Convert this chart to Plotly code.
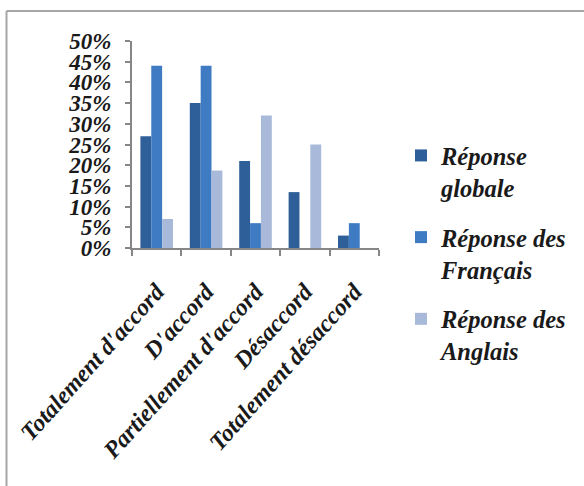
import plotly.graph_objects as go

categories = ["Totalement d'accord", "D'accord", "Partiellement d'accord", "Désaccord", "Totalement désaccord"]
series_names = ["Réponse<br>globale", "Réponse des<br>Français", "Réponse des<br>Anglais"]
globale = [27, 35, 21, 13.5, 3]
francais = [44, 44, 6, 0, 6]
anglais = [7, 18.7, 32, 25, 0]
colors = ["#2F5F98", "#3F7BC2", "#A8B9D9"]
y_ticks = [0, 5, 10, 15, 20, 25, 30, 35, 40, 45, 50]

FAM = "Liberation Serif, Times New Roman, serif"
font = dict(family=FAM, size=23, color="#1a1a1a", weight="bold", style="italic")

fig = go.Figure()
for i, (name, vals, c) in enumerate(zip(series_names, [globale, francais, anglais], colors)):
    fig.add_trace(go.Bar(x=categories, y=[v / 100 for v in vals], name=name,
                         legendgroup=f"g{i}",
                         marker=dict(color=c, line=dict(width=0))))

W, H = 584, 486
L, R, T, B = 132, 379, 41, 248

def px_x(px):
    return (px - L) / (R - L)

def px_y(py):
    return (B - py) / (B - T)

fig.update_layout(
    width=W, height=H,
    margin=dict(l=L, r=W - R, t=T, b=H - B, pad=0, autoexpand=False),
    paper_bgcolor="white", plot_bgcolor="white",
    barmode="group", bargap=0.34, bargroupgap=0,
    font=font,
    showlegend=True,
    legend=dict(xref="container", yref="container", x=401 / W, y=1 - 133 / H,
                xanchor="left", yanchor="top",
                font=dict(family=FAM, size=24.5, color="#1a1a1a", weight="bold", style="italic"),
                tracegroupgap=15, valign="top", itemwidth=30, bgcolor="rgba(0,0,0,0)"),
    shapes=[
        dict(type="line", xref="paper", yref="paper", x0=px_x(6.5), x1=px_x(700),
             y0=px_y(11), y1=px_y(11), line=dict(color="#A6A6A6", width=2)),
        dict(type="line", xref="paper", yref="paper", x0=px_x(6.5), x1=px_x(6.5),
             y0=px_y(11), y1=px_y(600), line=dict(color="#A6A6A6", width=2)),
    ],
)
fig.update_xaxes(
    automargin=False,
    showline=True, linecolor="#868686", linewidth=2,
    ticks="outside", tickson="boundaries", ticklen=6, tickcolor="#868686", tickwidth=2,
    tickangle=-48, showgrid=False, tickfont=dict(family=FAM, size=24, color="#1a1a1a",
                                                 weight="bold", style="italic"),
    ticklabelstandoff=18,
)
fig.update_yaxes(
    automargin=False,
    range=[0, 0.5], tickvals=[v / 100 for v in y_ticks],
    ticktext=[f"{v}%" for v in y_ticks],
    showline=True, linecolor="#868686", linewidth=2,
    ticks="outside", ticklen=5, tickcolor="#868686", tickwidth=2,
    showgrid=False, zeroline=False, tickfont=font, ticklabelstandoff=9,
)

fig.write_html("out.html", config={"displayModeBar": False},
               post_script="document.body.style.margin='0';document.body.style.overflow='hidden';")
